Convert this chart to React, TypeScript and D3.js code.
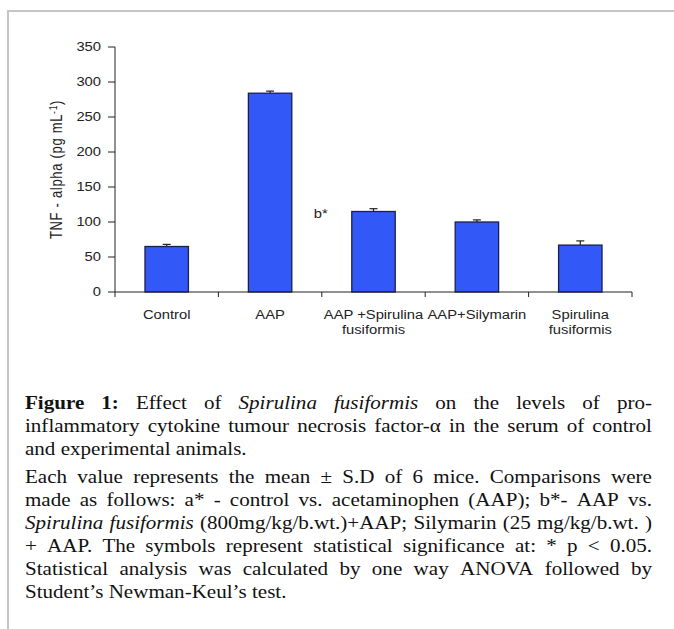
import React from 'react';
import * as d3 from 'd3';

// chart data
const categories = ['Control', 'AAP', 'AAP+Spirulina', 'AAP+Silymarin', 'Spirulina'];
const categoryLabels = [
  ['Control'],
  ['AAP'],
  ['AAP +Spirulina', 'fusiformis'],
  ['AAP+Silymarin'],
  ['Spirulina', 'fusiformis'],
];
const means = [65, 284, 115, 100, 67];
const sds = [3, 3, 4, 3, 6];
const yTicks = [0, 50, 100, 150, 200, 250, 300, 350];
const marks = [{ text: 'b*', category: 'AAP+Spirulina', value: 106 }];

// caption: each line is a list of [style, text] runs
const paragraph1 = [
  [['b', 'Figure 1:'], ['', 'Effect of'], ['i', 'Spirulina fusiformis'], ['', 'on the levels of pro-']],
  [['', 'inflammatory cytokine tumour necrosis factor-α in the serum of control']],
  [['', 'and experimental animals.']],
];
const paragraph2 = [
  [['', 'Each value represents the mean ± S.D of 6 mice.  Comparisons were']],
  [['', 'made as follows: a* - control vs. acetaminophen (AAP); b*- AAP vs.']],
  [['i', 'Spirulina fusiformis'], ['', '(800mg/kg/b.wt.)+AAP; Silymarin (25 mg/kg/b.wt. )']],
  [['', '+ AAP. The symbols represent statistical significance at: * p < 0.05.']],
  [['', 'Statistical analysis was calculated by one way ANOVA followed by']],
  [['', 'Student’s Newman-Keul’s test.']],
];

const SANS = "'Liberation Sans', Arial, sans-serif";
const SERIF = "'Liberation Serif', 'Times New Roman', serif";
const SX = 1.23; // the figure is stretched sideways
const CAP_FS = 18;
const CAP_SX = 1.17;

let ctx: CanvasRenderingContext2D | null = null;
const measure = (word: string, style: string) => {
  if (!ctx) ctx = document.createElement('canvas').getContext('2d');
  ctx!.font = `${style === 'i' ? 'italic ' : ''}${style === 'b' ? 'bold ' : ''}${CAP_FS}px ${SERIF}`;
  return ctx!.measureText(word).width;
};

const CaptionLine = ({ runs, y, justify, left, width }) => {
  const words: { w: string; s: string }[] = [];
  runs.forEach(([s, t]) => t.split(/\s+/).filter(Boolean).forEach(w => words.push({ w, s })));
  const widths = words.map(d => measure(d.w, d.s));
  const avail = width / CAP_SX;
  const total = d3.sum(widths);
  const space = measure(' ', '');
  const gap = justify && words.length > 1 ? Math.max(space * 0.6, (avail - total) / (words.length - 1)) : space;
  let x = 0;
  const xs = widths.map(w => { const p = x; x += w + gap; return p; });
  return (
    <g transform={`translate(${left},${y}) scale(${CAP_SX},1)`}>
      {words.map((d, i) => (
        <text key={i} x={xs[i]} style={{ fontFamily: SERIF }} fontSize={CAP_FS}
          fontWeight={d.s === 'b' ? 'bold' : 'normal'} fontStyle={d.s === 'i' ? 'italic' : 'normal'} fill="#111">
          {d.w}
        </text>
      ))}
    </g>
  );
};

// sans text stretched sideways around its anchor
const Label = ({ x, y, anchor = 'middle', dy = '0', children }) => (
  <g transform={`translate(${x},${y}) scale(${SX},1)`}>
    <text dy={dy} textAnchor={anchor} fontFamily={SANS} fontSize={12} fill="#222">{children}</text>
  </g>
);

export default function App() {
  const width = 674, height = 629;
  const x = d3.scaleBand().domain(categories).range([115, 632]);
  const y = d3.scaleLinear().domain([0, 350]).range([292, 47]);
  const barW = x.bandwidth() * 0.42;

  const capLeft = 25, capWidth = 627;
  const lines = [
    ...paragraph1.map((runs, i) => ({ runs, justify: i < paragraph1.length - 1, y: 409 + i * 23 })),
    ...paragraph2.map((runs, i) => ({ runs, justify: i < paragraph2.length - 1, y: 409 + (paragraph1.length + i) * 23 + 5 })),
  ];

  return (
    <svg width={width} height={height} style={{ position: 'absolute', left: 0, top: 0, background: '#fff' }}>
      {/* frame */}
      <rect x={8} y={11} width={700} height={700} fill="none" stroke="#c6c6c6" strokeWidth={2} />

      {/* y axis */}
      <line x1={115} x2={115} y1={y(350)} y2={y(0)} stroke="#222" />
      {yTicks.map(t => (
        <g key={t}>
          <line x1={108} x2={115} y1={y(t)} y2={y(t)} stroke="#222" />
          <Label x={101} y={y(t)} anchor="end" dy="0.35em">{t}</Label>
        </g>
      ))}
      <g transform={`translate(62,${y(175)}) scale(${SX},1) rotate(-90)`}>
        <text textAnchor="middle" fontFamily={SANS} fontSize={13} letterSpacing={0.7} fill="#222">
          TNF - alpha (pg mL<tspan dy={-4} fontSize={8.5}>-1</tspan><tspan dy={4}>)</tspan>
        </text>
      </g>

      {/* bars */}
      {categories.map((c, i) => {
        const cx = x(c)! + x.bandwidth() / 2;
        return (
          <g key={c}>
            <line x1={cx} x2={cx} y1={y(means[i])} y2={y(means[i] + sds[i])} stroke="#222" strokeWidth={1.2} />
            <line x1={cx - 4} x2={cx + 4} y1={y(means[i] + sds[i])} y2={y(means[i] + sds[i])} stroke="#222" strokeWidth={1.2} />
            <rect x={cx - barW / 2} y={y(means[i])} width={barW} height={y(0) - y(means[i])}
              fill="#3358f8" stroke="#1c1f4a" strokeWidth={1.3} />
          </g>
        );
      })}

      {/* x axis */}
      <line x1={115} x2={632} y1={y(0)} y2={y(0)} stroke="#222" />
      {[...categories.map(c => x(c)!), 632].map((t, i) => (
        <line key={i} x1={t} x2={t} y1={y(0)} y2={y(0) + 5} stroke="#222" />
      ))}
      {categoryLabels.map((lbl, i) =>
        lbl.map((l, j) => (
          <Label key={`${i}-${j}`} x={x(categories[i])! + x.bandwidth() / 2} y={319 + j * 15}>{l}</Label>
        ))
      )}

      {marks.map(m => (
        <Label key={m.text} x={x(m.category)! - 8} y={y(m.value)} anchor="start">{m.text}</Label>
      ))}

      {/* caption */}
      {lines.map((l, i) => (
        <CaptionLine key={i} runs={l.runs} y={l.y} justify={l.justify} left={capLeft} width={capWidth} />
      ))}
    </svg>
  );
}
